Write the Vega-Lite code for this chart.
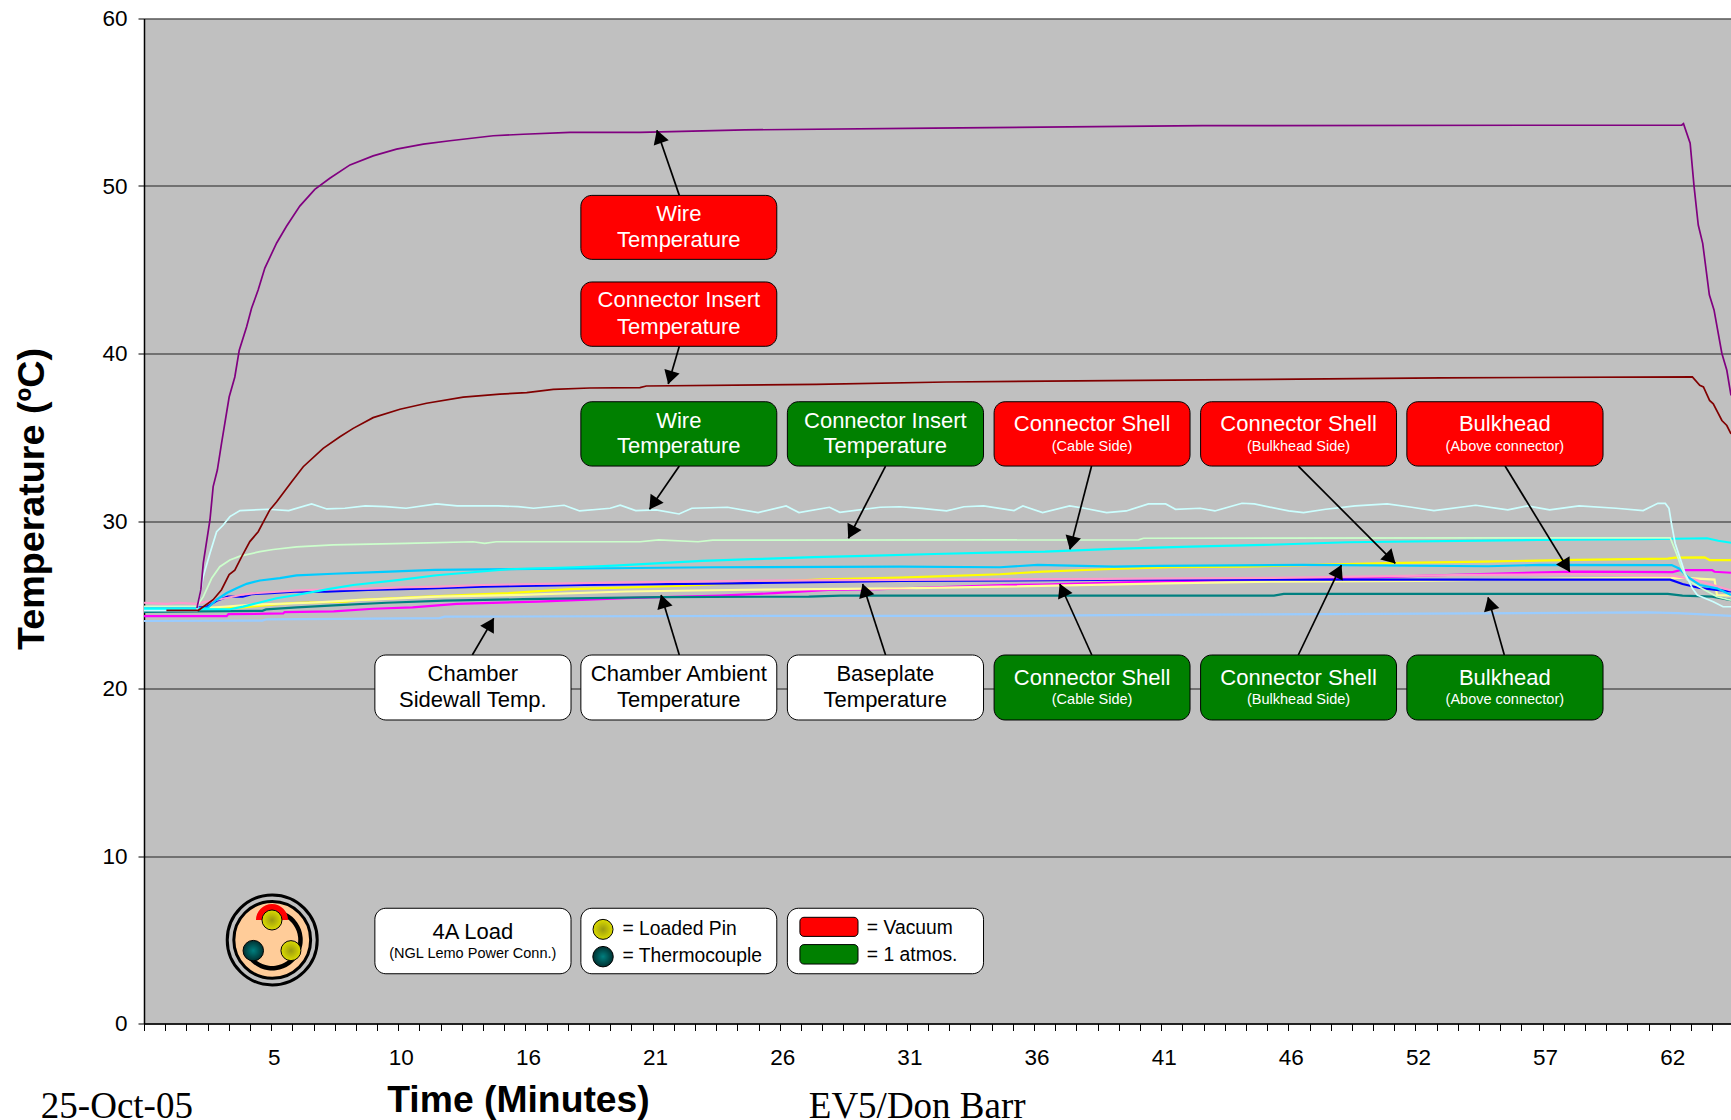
{
"$schema":"https://vega.github.io/schema/vega-lite/v6.json",
"width":1587,"height":1005,
"autosize":{"type":"none"},
"padding":{"left":144,"top":18.5,"right":0,"bottom":96.5},
"background":"white",
"view":{"fill":"#C0C0C0","stroke":null},
"config":{"font":"Liberation Sans"},
"datasets":{
"series":[
{"s":"sidewall","t":-0.11,"T":24.03},{"s":"sidewall","t":4.7,"T":24.05},{"s":"sidewall","t":4.87,"T":24.13},{"s":"sidewall","t":11.9,"T":24.2},{"s":"sidewall","t":12.1,"T":24.29},{"s":"sidewall","t":25.1,"T":24.33},{"s":"sidewall","t":34.67,"T":24.33},{"s":"sidewall","t":40.5,"T":24.39},{"s":"sidewall","t":49.8,"T":24.45},{"s":"sidewall","t":61,"T":24.55},{"s":"sidewall","t":62.2,"T":24.5},{"s":"sidewall","t":63.6,"T":24.39},{"s":"sidewall","t":64.37,"T":24.33},
{"s":"magenta","t":-0.11,"T":24.32},{"s":"magenta","t":3.25,"T":24.32},{"s":"magenta","t":3.32,"T":24.44},{"s":"magenta","t":5.55,"T":24.48},{"s":"magenta","t":5.6,"T":24.56},{"s":"magenta","t":7.6,"T":24.6},{"s":"magenta","t":9.2,"T":24.76},{"s":"magenta","t":10.8,"T":24.84},{"s":"magenta","t":12.6,"T":25.05},{"s":"magenta","t":15.9,"T":25.19},{"s":"magenta","t":19.45,"T":25.39},{"s":"magenta","t":23.3,"T":25.55},{"s":"magenta","t":25.5,"T":25.69},{"s":"magenta","t":27.7,"T":25.88},{"s":"magenta","t":29.8,"T":25.93},{"s":"magenta","t":34.8,"T":26.18},{"s":"magenta","t":36.4,"T":26.2},{"s":"magenta","t":39.8,"T":26.34},{"s":"magenta","t":42.9,"T":26.44},{"s":"magenta","t":46.8,"T":26.58},{"s":"magenta","t":49.8,"T":26.64},{"s":"magenta","t":53.8,"T":26.82},{"s":"magenta","t":58,"T":26.98},{"s":"magenta","t":62,"T":26.95},{"s":"magenta","t":62.3,"T":27.07},{"s":"magenta","t":63.6,"T":27.07},{"s":"magenta","t":63.7,"T":26.97},{"s":"magenta","t":64.37,"T":26.91},
{"s":"teal","t":-0.11,"T":24.58},{"s":"teal","t":4.7,"T":24.64},{"s":"teal","t":4.85,"T":24.72},{"s":"teal","t":6.1,"T":24.84},{"s":"teal","t":7.8,"T":24.98},{"s":"teal","t":9.75,"T":25.12},{"s":"teal","t":12.1,"T":25.25},{"s":"teal","t":15.3,"T":25.33},{"s":"teal","t":20.8,"T":25.45},{"s":"teal","t":26.9,"T":25.49},{"s":"teal","t":28.2,"T":25.55},{"s":"teal","t":45.8,"T":25.55},{"s":"teal","t":46.2,"T":25.65},{"s":"teal","t":61.8,"T":25.65},{"s":"teal","t":62.4,"T":25.55},{"s":"teal","t":63.6,"T":25.48},{"s":"teal","t":64,"T":25.38},{"s":"teal","t":64.37,"T":25.28},
{"s":"yellow","t":-0.11,"T":24.85},{"s":"yellow","t":3.11,"T":24.78},{"s":"yellow","t":3.92,"T":24.84},{"s":"yellow","t":4.87,"T":24.98},{"s":"yellow","t":6.09,"T":25.12},{"s":"yellow","t":8.1,"T":25.18},{"s":"yellow","t":8.5,"T":25.28},{"s":"yellow","t":11.37,"T":25.49},{"s":"yellow","t":14.7,"T":25.69},{"s":"yellow","t":17.2,"T":25.93},{"s":"yellow","t":21.5,"T":26.12},{"s":"yellow","t":23.4,"T":26.24},{"s":"yellow","t":27.5,"T":26.52},{"s":"yellow","t":30.6,"T":26.62},{"s":"yellow","t":34.67,"T":26.82},{"s":"yellow","t":36.4,"T":26.98},{"s":"yellow","t":38.9,"T":27.12},{"s":"yellow","t":41.6,"T":27.24},{"s":"yellow","t":44.6,"T":27.28},{"s":"yellow","t":50.4,"T":27.48},{"s":"yellow","t":54.3,"T":27.58},{"s":"yellow","t":58.1,"T":27.68},{"s":"yellow","t":61.8,"T":27.75},{"s":"yellow","t":62.1,"T":27.81},{"s":"yellow","t":63.3,"T":27.83},{"s":"yellow","t":63.5,"T":27.67},{"s":"yellow","t":64.37,"T":27.67},
{"s":"paleyellow","t":-0.11,"T":24.78},{"s":"paleyellow","t":2.1,"T":24.78},{"s":"paleyellow","t":3.1,"T":24.88},{"s":"paleyellow","t":4.2,"T":25},{"s":"paleyellow","t":6.6,"T":25.12},{"s":"paleyellow","t":8.5,"T":25.28},{"s":"paleyellow","t":11.8,"T":25.49},{"s":"paleyellow","t":15.2,"T":25.59},{"s":"paleyellow","t":19.45,"T":25.79},{"s":"paleyellow","t":23.7,"T":25.88},{"s":"paleyellow","t":30.6,"T":25.98},{"s":"paleyellow","t":34.67,"T":26.08},{"s":"paleyellow","t":41.4,"T":26.28},{"s":"paleyellow","t":46,"T":26.38},{"s":"paleyellow","t":51.7,"T":26.42},{"s":"paleyellow","t":58,"T":26.58},{"s":"paleyellow","t":62.3,"T":26.62},{"s":"paleyellow","t":63.7,"T":26.5},{"s":"paleyellow","t":63.8,"T":25.58},{"s":"paleyellow","t":64.37,"T":25.54},
{"s":"blue","t":-0.11,"T":24.85},{"s":"blue","t":2.4,"T":24.84},{"s":"blue","t":2.84,"T":25.24},{"s":"blue","t":3.3,"T":25.48},{"s":"blue","t":3.9,"T":25.48},{"s":"blue","t":4.3,"T":25.64},{"s":"blue","t":4.87,"T":25.68},{"s":"blue","t":6,"T":25.78},{"s":"blue","t":7.3,"T":25.78},{"s":"blue","t":9,"T":25.88},{"s":"blue","t":11.2,"T":25.96},{"s":"blue","t":13.65,"T":26.08},{"s":"blue","t":17.8,"T":26.18},{"s":"blue","t":23.8,"T":26.28},{"s":"blue","t":30.6,"T":26.42},{"s":"blue","t":40,"T":26.5},{"s":"blue","t":61.9,"T":26.5},{"s":"blue","t":62.4,"T":26.24},{"s":"blue","t":63.1,"T":26},{"s":"blue","t":63.7,"T":25.9},{"s":"blue","t":64.37,"T":25.8},
{"s":"pink","t":-0.11,"T":25.12},{"s":"pink","t":0.8,"T":25.05},{"s":"pink","t":1.3,"T":25.12},{"s":"pink","t":2,"T":25.05},{"s":"pink","t":2.4,"T":25.18},{"s":"pink","t":3.3,"T":25.42},{"s":"pink","t":3.8,"T":25.58},{"s":"pink","t":4.3,"T":25.68},{"s":"pink","t":6,"T":25.84},{"s":"pink","t":7.3,"T":25.92},{"s":"pink","t":9,"T":25.96},{"s":"pink","t":10.3,"T":26.04},{"s":"pink","t":11.9,"T":26.08},{"s":"pink","t":13.65,"T":26.18},{"s":"pink","t":18.8,"T":26.32},{"s":"pink","t":25,"T":26.44},{"s":"pink","t":30.6,"T":26.48},{"s":"pink","t":45.8,"T":26.6},{"s":"pink","t":53.8,"T":26.78},{"s":"pink","t":57.8,"T":26.82},{"s":"pink","t":62,"T":26.74},{"s":"pink","t":62.9,"T":26.5},{"s":"pink","t":63.8,"T":26.1},{"s":"pink","t":64.37,"T":25.85},
{"s":"sky","t":-0.11,"T":24.8},{"s":"sky","t":2.4,"T":24.8},{"s":"sky","t":2.5,"T":24.85},{"s":"sky","t":2.84,"T":25.3},{"s":"sky","t":3.25,"T":25.7},{"s":"sky","t":3.65,"T":25.99},{"s":"sky","t":4.06,"T":26.25},{"s":"sky","t":4.6,"T":26.45},{"s":"sky","t":5.41,"T":26.59},{"s":"sky","t":6.09,"T":26.75},{"s":"sky","t":7.58,"T":26.85},{"s":"sky","t":9.61,"T":26.96},{"s":"sky","t":11.71,"T":27.08},{"s":"sky","t":18.83,"T":27.18},{"s":"sky","t":22.97,"T":27.24},{"s":"sky","t":30.6,"T":27.28},{"s":"sky","t":34.67,"T":27.24},{"s":"sky","t":36.2,"T":27.38},{"s":"sky","t":39.3,"T":27.28},{"s":"sky","t":41.1,"T":27.32},{"s":"sky","t":47,"T":27.38},{"s":"sky","t":54.5,"T":27.3},{"s":"sky","t":56.6,"T":27.38},{"s":"sky","t":61.96,"T":27.37},{"s":"sky","t":62.26,"T":27.17},{"s":"sky","t":62.6,"T":26.68},{"s":"sky","t":63.1,"T":26.18},{"s":"sky","t":63.8,"T":25.98},{"s":"sky","t":64.37,"T":25.58},
{"s":"cyan","t":-0.11,"T":24.75},{"s":"cyan","t":3.38,"T":24.73},{"s":"cyan","t":3.92,"T":24.89},{"s":"cyan","t":4.47,"T":25.09},{"s":"cyan","t":5.28,"T":25.39},{"s":"cyan","t":6.09,"T":25.58},{"s":"cyan","t":7.31,"T":25.92},{"s":"cyan","t":8.39,"T":26.18},{"s":"cyan","t":10.29,"T":26.48},{"s":"cyan","t":11.78,"T":26.76},{"s":"cyan","t":14.7,"T":27.12},{"s":"cyan","t":17.4,"T":27.24},{"s":"cyan","t":19,"T":27.34},{"s":"cyan","t":22.56,"T":27.62},{"s":"cyan","t":24.6,"T":27.72},{"s":"cyan","t":27.1,"T":27.84},{"s":"cyan","t":29.2,"T":27.92},{"s":"cyan","t":32,"T":28.03},{"s":"cyan","t":34.67,"T":28.13},{"s":"cyan","t":36.5,"T":28.17},{"s":"cyan","t":39.3,"T":28.33},{"s":"cyan","t":42.4,"T":28.47},{"s":"cyan","t":45.4,"T":28.57},{"s":"cyan","t":48.8,"T":28.73},{"s":"cyan","t":56.5,"T":28.87},{"s":"cyan","t":60.7,"T":28.91},{"s":"cyan","t":63.4,"T":28.97},{"s":"cyan","t":63.85,"T":28.82},{"s":"cyan","t":64.37,"T":28.7},
{"s":"palegreen","t":-0.11,"T":24.9},{"s":"palegreen","t":2.04,"T":24.9},{"s":"palegreen","t":2.3,"T":25.48},{"s":"palegreen","t":2.64,"T":26.58},{"s":"palegreen","t":2.97,"T":27.27},{"s":"palegreen","t":3.38,"T":27.67},{"s":"palegreen","t":3.79,"T":27.9},{"s":"palegreen","t":4.6,"T":28.17},{"s":"palegreen","t":5.14,"T":28.3},{"s":"palegreen","t":6.09,"T":28.46},{"s":"palegreen","t":7.58,"T":28.57},{"s":"palegreen","t":10.56,"T":28.67},{"s":"palegreen","t":13.26,"T":28.76},{"s":"palegreen","t":13.73,"T":28.67},{"s":"palegreen","t":14.2,"T":28.76},{"s":"palegreen","t":20.04,"T":28.76},{"s":"palegreen","t":20.8,"T":28.87},{"s":"palegreen","t":22.4,"T":28.76},{"s":"palegreen","t":23,"T":28.86},{"s":"palegreen","t":40.3,"T":28.87},{"s":"palegreen","t":40.5,"T":28.97},{"s":"palegreen","t":61.9,"T":29},{"s":"palegreen","t":62.15,"T":28.07},{"s":"palegreen","t":62.37,"T":27.17},{"s":"palegreen","t":62.6,"T":26.48},{"s":"palegreen","t":63.1,"T":26.04},{"s":"palegreen","t":63.8,"T":25.48},{"s":"palegreen","t":64.37,"T":25.28},
{"s":"palecyan","t":-0.11,"T":24.65},{"s":"palecyan","t":2.04,"T":24.65},{"s":"palecyan","t":2.3,"T":26.7},{"s":"palecyan","t":2.57,"T":28.07},{"s":"palecyan","t":2.84,"T":29.36},{"s":"palecyan","t":3.11,"T":29.76},{"s":"palecyan","t":3.38,"T":30.26},{"s":"palecyan","t":3.79,"T":30.62},{"s":"palecyan","t":4.94,"T":30.7},{"s":"palecyan","t":5.77,"T":30.62},{"s":"palecyan","t":6.7,"T":31.02},{"s":"palecyan","t":7.32,"T":30.72},{"s":"palecyan","t":8.05,"T":30.76},{"s":"palecyan","t":8.88,"T":30.9},{"s":"palecyan","t":9.71,"T":30.86},{"s":"palecyan","t":10.54,"T":30.76},{"s":"palecyan","t":11.78,"T":31.02},{"s":"palecyan","t":12.61,"T":30.9},{"s":"palecyan","t":14.27,"T":30.9},{"s":"palecyan","t":15.1,"T":30.86},{"s":"palecyan","t":15.72,"T":30.76},{"s":"palecyan","t":16.96,"T":30.94},{"s":"palecyan","t":17.59,"T":30.6},{"s":"palecyan","t":18.83,"T":30.76},{"s":"palecyan","t":19.24,"T":30.94},{"s":"palecyan","t":19.87,"T":30.62},{"s":"palecyan","t":20.7,"T":30.66},{"s":"palecyan","t":21.63,"T":30.42},{"s":"palecyan","t":22.15,"T":30.76},{"s":"palecyan","t":23.6,"T":30.82},{"s":"palecyan","t":24.84,"T":30.5},{"s":"palecyan","t":25.98,"T":30.9},{"s":"palecyan","t":26.5,"T":30.5},{"s":"palecyan","t":27.74,"T":30.82},{"s":"palecyan","t":28.16,"T":30.52},{"s":"palecyan","t":29.8,"T":30.82},{"s":"palecyan","t":30.6,"T":30.85},{"s":"palecyan","t":31.5,"T":30.75},{"s":"palecyan","t":32.5,"T":30.6},{"s":"palecyan","t":33.2,"T":30.85},{"s":"palecyan","t":34,"T":30.9},{"s":"palecyan","t":35.24,"T":30.62},{"s":"palecyan","t":35.6,"T":30.9},{"s":"palecyan","t":36.4,"T":30.5},{"s":"palecyan","t":37.5,"T":30.9},{"s":"palecyan","t":38.1,"T":30.76},{"s":"palecyan","t":39,"T":30.5},{"s":"palecyan","t":39.8,"T":30.6},{"s":"palecyan","t":40.7,"T":31.02},{"s":"palecyan","t":41.4,"T":31.02},{"s":"palecyan","t":41.8,"T":30.7},{"s":"palecyan","t":42.8,"T":30.76},{"s":"palecyan","t":43.4,"T":30.6},{"s":"palecyan","t":44.5,"T":31.06},{"s":"palecyan","t":45,"T":31.02},{"s":"palecyan","t":46.4,"T":30.6},{"s":"palecyan","t":47,"T":30.5},{"s":"palecyan","t":47.9,"T":30.7},{"s":"palecyan","t":49.1,"T":30.9},{"s":"palecyan","t":50.4,"T":31.02},{"s":"palecyan","t":51.4,"T":30.82},{"s":"palecyan","t":52.3,"T":30.62},{"s":"palecyan","t":54,"T":30.94},{"s":"palecyan","t":55.3,"T":30.66},{"s":"palecyan","t":56.1,"T":30.9},{"s":"palecyan","t":57,"T":30.66},{"s":"palecyan","t":58.2,"T":30.9},{"s":"palecyan","t":59.7,"T":30.76},{"s":"palecyan","t":60.8,"T":30.62},{"s":"palecyan","t":61.4,"T":31.06},{"s":"palecyan","t":61.7,"T":31.05},{"s":"palecyan","t":61.85,"T":30.76},{"s":"palecyan","t":61.95,"T":29.86},{"s":"palecyan","t":62.1,"T":28.67},{"s":"palecyan","t":62.37,"T":27.47},{"s":"palecyan","t":62.5,"T":26.88},{"s":"palecyan","t":62.8,"T":25.98},{"s":"palecyan","t":63,"T":25.58},{"s":"palecyan","t":63.65,"T":25.18},{"s":"palecyan","t":64.05,"T":24.88},{"s":"palecyan","t":64.37,"T":24.88},
{"s":"insert","t":0.8,"T":24.67},{"s":"insert","t":2.1,"T":24.67},{"s":"insert","t":2.7,"T":25.3},{"s":"insert","t":3.04,"T":25.9},{"s":"insert","t":3.35,"T":26.8},{"s":"insert","t":3.58,"T":27.07},{"s":"insert","t":3.86,"T":27.87},{"s":"insert","t":4.19,"T":28.77},{"s":"insert","t":4.53,"T":29.36},{"s":"insert","t":5,"T":30.66},{"s":"insert","t":5.28,"T":31.15},{"s":"insert","t":5.89,"T":32.35},{"s":"insert","t":6.36,"T":33.24},{"s":"insert","t":7.17,"T":34.34},{"s":"insert","t":7.85,"T":35.03},{"s":"insert","t":8.39,"T":35.53},{"s":"insert","t":9.2,"T":36.17},{"s":"insert","t":10.29,"T":36.67},{"s":"insert","t":11.37,"T":37.03},{"s":"insert","t":12.86,"T":37.39},{"s":"insert","t":14.35,"T":37.58},{"s":"insert","t":15.44,"T":37.66},{"s":"insert","t":16.52,"T":37.86},{"s":"insert","t":18,"T":37.94},{"s":"insert","t":20.04,"T":37.96},{"s":"insert","t":20.3,"T":38.06},{"s":"insert","t":27.2,"T":38.16},{"s":"insert","t":32.5,"T":38.3},{"s":"insert","t":42.9,"T":38.42},{"s":"insert","t":52.6,"T":38.55},{"s":"insert","t":62.8,"T":38.6},{"s":"insert","t":63.1,"T":38.1},{"s":"insert","t":63.25,"T":38},{"s":"insert","t":63.5,"T":37.2},{"s":"insert","t":63.65,"T":37},{"s":"insert","t":64,"T":36},{"s":"insert","t":64.2,"T":35.7},{"s":"insert","t":64.37,"T":35.2},
{"s":"wire","t":2.04,"T":24.8},{"s":"wire","t":2.2,"T":25.9},{"s":"wire","t":2.3,"T":27.5},{"s":"wire","t":2.57,"T":30.06},{"s":"wire","t":2.7,"T":32.05},{"s":"wire","t":2.87,"T":33.04},{"s":"wire","t":3.04,"T":34.64},{"s":"wire","t":3.35,"T":37.4},{"s":"wire","t":3.58,"T":38.6},{"s":"wire","t":3.76,"T":40.2},{"s":"wire","t":4.06,"T":41.6},{"s":"wire","t":4.26,"T":42.7},{"s":"wire","t":4.53,"T":43.8},{"s":"wire","t":4.8,"T":45.1},{"s":"wire","t":5.28,"T":46.6},{"s":"wire","t":5.68,"T":47.6},{"s":"wire","t":6.22,"T":48.8},{"s":"wire","t":6.83,"T":49.8},{"s":"wire","t":7.44,"T":50.46},{"s":"wire","t":8.26,"T":51.26},{"s":"wire","t":9.2,"T":51.8},{"s":"wire","t":10.15,"T":52.2},{"s":"wire","t":11.24,"T":52.5},{"s":"wire","t":12.32,"T":52.7},{"s":"wire","t":14.08,"T":53},{"s":"wire","t":15.3,"T":53.09},{"s":"wire","t":17.2,"T":53.2},{"s":"wire","t":20.04,"T":53.2},{"s":"wire","t":24.3,"T":53.35},{"s":"wire","t":31.95,"T":53.45},{"s":"wire","t":42.9,"T":53.6},{"s":"wire","t":62.37,"T":53.64},{"s":"wire","t":62.44,"T":53.72},{"s":"wire","t":62.71,"T":52.55},{"s":"wire","t":62.87,"T":49.96},{"s":"wire","t":63.04,"T":47.67},{"s":"wire","t":63.22,"T":46.58},{"s":"wire","t":63.49,"T":43.5},{"s":"wire","t":63.68,"T":42.6},{"s":"wire","t":64,"T":40},{"s":"wire","t":64.2,"T":39},{"s":"wire","t":64.37,"T":37.5}
],
"boxes":[
{"k":"vacuum","x":17.64,"x2":25.6,"y":45.62,"y2":49.44},
{"k":"vacuum","x":17.64,"x2":25.6,"y":40.43,"y2":44.27},
{"k":"atmos","x":17.64,"x2":25.6,"y":33.28,"y2":37.12},
{"k":"atmos","x":26.03,"x2":34,"y":33.28,"y2":37.12},
{"k":"vacuum","x":34.43,"x2":42.39,"y":33.28,"y2":37.12},
{"k":"vacuum","x":42.82,"x2":50.78,"y":33.28,"y2":37.12},
{"k":"vacuum","x":51.2,"x2":59.17,"y":33.28,"y2":37.12},
{"k":"plain","x":9.27,"x2":17.24,"y":18.12,"y2":22},
{"k":"plain","x":17.64,"x2":25.6,"y":18.12,"y2":22},
{"k":"plain","x":26.03,"x2":34,"y":18.12,"y2":22},
{"k":"atmos","x":34.43,"x2":42.39,"y":18.12,"y2":22},
{"k":"atmos","x":42.82,"x2":50.78,"y":18.12,"y2":22},
{"k":"atmos","x":51.2,"x2":59.17,"y":18.12,"y2":22},
{"k":"plain","x":9.27,"x2":17.24,"y":2.97,"y2":6.88},
{"k":"plain","x":17.64,"x2":25.6,"y":2.97,"y2":6.88},
{"k":"plain","x":26.03,"x2":34,"y":2.97,"y2":6.88}
],
"swatches":[
{"k":"vacuum","x":26.54,"x2":28.9,"y":5.2,"y2":6.34},
{"k":"atmos","x":26.54,"x2":28.9,"y":3.55,"y2":4.71}
],
"arrows":[
{"x":21.64,"y":49.44,"x2":20.73,"y2":53.33},
{"x":21.64,"y":40.43,"x2":21.19,"y2":38.18},
{"x":21.64,"y":33.28,"x2":20.43,"y2":30.7},
{"x":30.02,"y":33.28,"x2":28.51,"y2":28.97},
{"x":38.39,"y":33.28,"x2":37.51,"y2":28.31},
{"x":46.79,"y":33.28,"x2":50.73,"y2":27.47},
{"x":55.19,"y":33.28,"x2":57.82,"y2":26.97},
{"x":13.23,"y":22,"x2":14.1,"y2":24.19},
{"x":21.64,"y":22,"x2":20.9,"y2":25.58},
{"x":30.02,"y":22,"x2":29.09,"y2":26.24},
{"x":38.4,"y":22,"x2":37.1,"y2":26.24},
{"x":46.79,"y":22,"x2":48.54,"y2":27.37},
{"x":55.16,"y":22,"x2":54.5,"y2":25.44}
],
"lightText":[
{"x":21.62,"y":48.33,"z":"main","txt":"Wire"},{"x":21.62,"y":46.79,"z":"main","txt":"Temperature"},
{"x":21.62,"y":43.19,"z":"main","txt":"Connector Insert"},{"x":21.62,"y":41.61,"z":"main","txt":"Temperature"},
{"x":21.62,"y":36,"z":"main","txt":"Wire"},{"x":21.62,"y":34.46,"z":"main","txt":"Temperature"},
{"x":30.01,"y":36,"z":"main","txt":"Connector Insert"},{"x":30.01,"y":34.46,"z":"main","txt":"Temperature"},
{"x":38.41,"y":35.8,"z":"main","txt":"Connector Shell"},{"x":38.41,"y":34.42,"z":"sub","txt":"(Cable Side)"},
{"x":46.8,"y":35.8,"z":"main","txt":"Connector Shell"},{"x":46.8,"y":34.42,"z":"sub","txt":"(Bulkhead Side)"},
{"x":55.18,"y":35.8,"z":"main","txt":"Bulkhead"},{"x":55.18,"y":34.42,"z":"sub","txt":"(Above connector)"},
{"x":38.41,"y":20.6,"z":"main","txt":"Connector Shell"},{"x":38.41,"y":19.31,"z":"sub","txt":"(Cable Side)"},
{"x":46.8,"y":20.6,"z":"main","txt":"Connector Shell"},{"x":46.8,"y":19.31,"z":"sub","txt":"(Bulkhead Side)"},
{"x":55.18,"y":20.6,"z":"main","txt":"Bulkhead"},{"x":55.18,"y":19.31,"z":"sub","txt":"(Above connector)"}
],
"darkText":[
{"x":13.25,"y":20.84,"z":"main","txt":"Chamber"},{"x":13.25,"y":19.32,"z":"main","txt":"Sidewall Temp."},
{"x":21.62,"y":20.84,"z":"main","txt":"Chamber Ambient"},{"x":21.62,"y":19.32,"z":"main","txt":"Temperature"},
{"x":30.01,"y":20.84,"z":"main","txt":"Baseplate"},{"x":30.01,"y":19.32,"z":"main","txt":"Temperature"},
{"x":13.25,"y":5.48,"z":"main","txt":"4A Load"},{"x":13.25,"y":4.16,"z":"sub","txt":"(NGL Lemo Power Conn.)"}
],
"legendText":[
{"x":19.33,"y":5.62,"txt":"= Loaded Pin"},{"x":19.33,"y":4.03,"txt":"= Thermocouple"},
{"x":29.26,"y":5.72,"txt":"= Vacuum"},{"x":29.26,"y":4.09,"txt":"= 1 atmos."}
],
"footer":[
{"x":-4.3,"y":-5.64,"txt":"25-Oct-05"},{"x":26.9,"y":-5.64,"txt":"EV5/Don Barr"}
],
"icon":[{"x":5.1,"y":4.99}],
"redArc":[{"x":5.09,"y":6.18}],
"loaded":[{"x":5.09,"y":6.18},{"x":5.86,"y":4.35},{"x":18.54,"y":5.62}],
"thermo":[{"x":4.33,"y":4.35},{"x":18.54,"y":3.99}]
},
"layer":[
{"data":{"name":"series"},"transform":[{"filter":"indexof(['wire','insert','palecyan','palegreen'],datum.s)<0"}],"mark":{"type":"line","strokeWidth":2.2,"interpolate":"linear"},
"encoding":{
"x":{"field":"t","type":"quantitative","scale":{"domain":[-0.11,64.37],"nice":false,"zero":false},
"axis":{"title":"Time (Minutes)","titleFontSize":37.3,"titleFont":"Liberation Sans","titleFontWeight":"bold","titleColor":"black","titleX":374,"titleY":77,"titleBaseline":"middle","titleAnchor":null,
"grid":false,"domainColor":"black","domainWidth":1.5,"tickColor":"black","tickWidth":1,"tickSize":7,"tickCount":100,"labelFontSize":22.5,"labelFont":"Liberation Sans","labelColor":"black","labelPadding":16,"labelOffset":2.5,"labelOverlap":false,"labelFlush":false,"labelBound":false,
"values":[-0.11,0.751,1.612,2.473,3.334,4.195,5.056,5.917,6.778,7.639,8.5,9.361,10.222,11.083,11.944,12.805,13.666,14.527,15.388,16.249,17.11,17.971,18.832,19.693,20.554,21.415,22.276,23.137,23.998,24.859,25.72,26.581,27.442,28.303,29.164,30.025,30.886,31.747,32.608,33.469,34.33,35.191,36.052,36.913,37.774,38.635,39.496,40.357,41.218,42.079,42.94,43.801,44.662,45.523,46.384,47.245,48.106,48.967,49.828,50.689,51.55,52.411,53.272,54.133,54.994,55.855,56.716,57.577,58.438,59.299,60.16,61.021,61.882,62.743,63.604],
"labelExpr":"(round((datum.value+0.11)/0.861)%6==0 && round((datum.value+0.11)/0.861)>0) ? ['5','10','16','21','26','31','36','41','46','52','57','62'][round((datum.value+0.11)/0.861)/6-1] : ''"}},
"y":{"field":"T","type":"quantitative","scale":{"domain":[0,60],"nice":false},
"axis":{"title":"Temperature (ºC)","titleFontSize":37.7,"titleFont":"Liberation Sans","titleFontWeight":"bold","titleColor":"black","titleX":-112,"titleY":480,"titleBaseline":"middle","titleAngle":-90,"titleAnchor":null,
"values":[0,10,20,30,40,50,60],"grid":true,"gridColor":"#222222","gridWidth":1,"gridOpacity":1,"domainColor":"black","domainWidth":1.5,"tickColor":"black","tickWidth":1,"tickSize":6,"labelFontSize":22.5,"labelFont":"Liberation Sans","labelColor":"black","labelPadding":11,"labelBound":false,"labelFlush":false,"labelOverlap":false}},
"stroke":{"field":"s","type":"nominal","legend":null,"scale":{"domain":["wire","insert","palecyan","palegreen","cyan","sky","yellow","paleyellow","magenta","blue","pink","teal","sidewall"],"range":["#800080","#800000","#CCFFFF","#CCFFCC","#00FFFF","#00CCFF","#FFFF00","#FFFF99","#FF00FF","#0000FF","#FF99CC","#008080","#99CCFF"]}},
"order":{"field":"t","type":"quantitative"}
}},
{"data":{"name":"series"},"transform":[{"filter":"indexof(['wire','insert','palecyan','palegreen'],datum.s)>=0"}],"mark":{"type":"line","strokeWidth":1.7,"interpolate":"linear"},
"encoding":{"x":{"field":"t","type":"quantitative"},"y":{"field":"T","type":"quantitative"},"stroke":{"field":"s","type":"nominal","legend":null},"order":{"field":"t","type":"quantitative"}}},
{"data":{"name":"arrows"},"mark":{"type":"rule","color":"black","strokeWidth":1.7},
"encoding":{"x":{"field":"x","type":"quantitative"},"x2":{"field":"x2"},"y":{"field":"y","type":"quantitative"},"y2":{"field":"y2"}}},
{"data":{"name":"arrows"},
"transform":[
{"calculate":"(datum.x2-datum.x)*24.61","as":"dx"},{"calculate":"(datum.y2-datum.y)*16.75","as":"dy"},
{"calculate":"sqrt(datum.dx*datum.dx+datum.dy*datum.dy)","as":"len"},
{"calculate":"atan2(datum.dx,datum.dy)*180/PI","as":"ang"},
{"calculate":"datum.x2-6.5*datum.dx/datum.len/24.61","as":"hx"},
{"calculate":"datum.y2-6.5*datum.dy/datum.len/16.75","as":"hy"}],
"mark":{"type":"point","shape":"triangle-up","filled":true,"color":"black","opacity":1,"size":250},
"encoding":{"x":{"field":"hx","type":"quantitative"},"y":{"field":"hy","type":"quantitative"},"angle":{"field":"ang","type":"quantitative","scale":null}}},
{"data":{"name":"boxes"},"mark":{"type":"rect","cornerRadius":11,"stroke":"black","strokeWidth":1,"opacity":1},
"encoding":{"x":{"field":"x","type":"quantitative"},"x2":{"field":"x2"},"y":{"field":"y","type":"quantitative"},"y2":{"field":"y2"},
"fill":{"field":"k","type":"nominal","legend":null,"scale":{"domain":["vacuum","atmos","plain"],"range":["#FF0000","#008000","#FFFFFF"]}}}},
{"data":{"name":"swatches"},"mark":{"type":"rect","cornerRadius":4,"stroke":"black","strokeWidth":1,"opacity":1},
"encoding":{"x":{"field":"x","type":"quantitative"},"x2":{"field":"x2"},"y":{"field":"y","type":"quantitative"},"y2":{"field":"y2"},
"fill":{"field":"k","type":"nominal","legend":null}}},
{"data":{"name":"lightText"},"mark":{"type":"text","color":"white","font":"Liberation Sans","baseline":"middle","align":"center"},
"encoding":{"x":{"field":"x","type":"quantitative"},"y":{"field":"y","type":"quantitative"},"text":{"field":"txt"},
"size":{"field":"z","type":"nominal","legend":null,"scale":{"domain":["main","sub"],"range":[22,14.5]}}}},
{"data":{"name":"darkText"},"mark":{"type":"text","color":"black","font":"Liberation Sans","baseline":"middle","align":"center"},
"encoding":{"x":{"field":"x","type":"quantitative"},"y":{"field":"y","type":"quantitative"},"text":{"field":"txt"},
"size":{"field":"z","type":"nominal","legend":null}}},
{"data":{"name":"legendText"},"mark":{"type":"text","color":"black","font":"Liberation Sans","baseline":"middle","align":"left","fontSize":19.3},
"encoding":{"x":{"field":"x","type":"quantitative"},"y":{"field":"y","type":"quantitative"},"text":{"field":"txt"}}},
{"data":{"name":"footer"},"mark":{"type":"text","color":"black","font":"Liberation Serif","baseline":"alphabetic","align":"left","fontSize":37},
"encoding":{"x":{"field":"x","type":"quantitative"},"y":{"field":"y","type":"quantitative"},"text":{"field":"txt"}}},
{"data":{"name":"icon"},"mark":{"type":"point","shape":"circle","filled":true,"stroke":"black","strokeWidth":3,"size":8100,"opacity":1,"fill":"#C0C0C0"},
"encoding":{"x":{"field":"x","type":"quantitative"},"y":{"field":"y","type":"quantitative"}}},
{"data":{"name":"icon"},"mark":{"type":"point","shape":"circle","filled":true,"fill":"#FFCC99","stroke":"black","strokeWidth":3,"size":5900,"opacity":1},
"encoding":{"x":{"field":"x","type":"quantitative"},"y":{"field":"y","type":"quantitative"}}},
{"data":{"name":"icon"},"mark":{"type":"arc","fill":"black","innerRadius":26,"outerRadius":30.5,"theta":0.2,"theta2":4.3},
"encoding":{"x":{"field":"x","type":"quantitative"},"y":{"field":"y","type":"quantitative"}}},
{"data":{"name":"redArc"},"mark":{"type":"arc","fill":"#FF0000","innerRadius":10,"outerRadius":16,"theta":-1.5708,"theta2":1.5708},
"encoding":{"x":{"field":"x","type":"quantitative"},"y":{"field":"y","type":"quantitative"}}},
{"data":{"name":"loaded"},"mark":{"type":"point","shape":"circle","filled":true,"stroke":"black","strokeWidth":1,"size":400,"opacity":1,
"fill":{"gradient":"radial","x1":0.5,"y1":0.5,"r1":0,"x2":0.5,"y2":0.5,"r2":0.5,"stops":[{"offset":0,"color":"#9A9A10"},{"offset":1,"color":"#DCDC00"}]}},
"encoding":{"x":{"field":"x","type":"quantitative"},"y":{"field":"y","type":"quantitative"}}},
{"data":{"name":"thermo"},"mark":{"type":"point","shape":"circle","filled":true,"stroke":"black","strokeWidth":1,"size":420,"opacity":1,
"fill":{"gradient":"radial","x1":0.5,"y1":0.5,"r1":0,"x2":0.5,"y2":0.5,"r2":0.5,"stops":[{"offset":0,"color":"#008080"},{"offset":1,"color":"#003030"}]}},
"encoding":{"x":{"field":"x","type":"quantitative"},"y":{"field":"y","type":"quantitative"}}}
]
}
